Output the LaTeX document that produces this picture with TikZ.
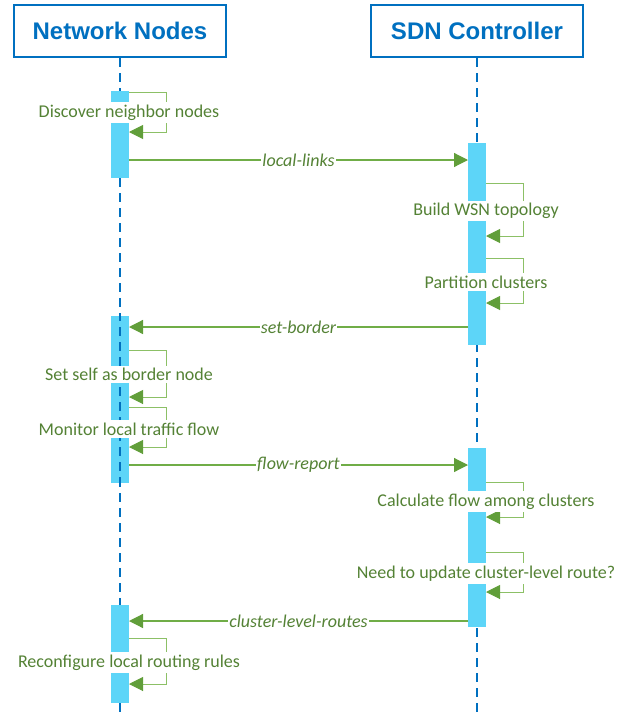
\documentclass[tikz,border=0pt]{standalone}
\usepackage{fontspec}
\setmainfont{Carlito}
\newfontfamily\headfont{Liberation Sans}
\usetikzlibrary{arrows.meta}
\definecolor{hblue}{HTML}{0070C0}
\definecolor{barcyan}{HTML}{5DD5F8}
\definecolor{msggreen}{HTML}{70AD47}
\definecolor{loopgreen}{HTML}{8CC066}
\definecolor{tipgreen}{HTML}{619E3A}
\definecolor{txtgreen}{HTML}{548235}
\tikzset{
  header/.style={draw=hblue, line width=2pt, fill=white, minimum width=212pt, minimum height=52pt,
    font=\headfont\bfseries\fontsize{24}{28}\selectfont, text=hblue, inner sep=0pt},
  lifeline/.style={draw=hblue, line width=2pt, dash pattern=on 9pt off 6pt},
  actbar/.style={fill=barcyan, draw=none},
  msgline/.style={draw=msggreen, line width=1.2pt, -{Triangle[length=14pt,width=14pt,color=tipgreen]}},
  loopline/.style={draw=loopgreen, line width=1pt, -{Triangle[length=14pt,width=14pt,color=tipgreen]}},
  looplabel/.style={fill=white, text=txtgreen, font=\fontsize{18}{21}\selectfont, inner xsep=1pt, inner ysep=2.5pt},
  msglabel/.style={fill=white, text=txtgreen, font=\itshape\fontsize{18}{21}\selectfont, inner xsep=1pt, inner ysep=1pt}
}
\begin{document}
\begin{tikzpicture}[x=1pt,y=-1pt]
\useasboundingbox (0,0) rectangle (638,718);
% headers
\node[header] (nn) at (120,31) {Network Nodes};
\node[header] (sdn) at (477,31) {SDN Controller};
% lifelines
\coordinate (nnend) at (120,718);
\coordinate (sdnend) at (477,718);
\draw[lifeline] (nn.south) -- (nnend);
\draw[lifeline] (sdn.south) -- (sdnend);
% activation bars
\fill[actbar] (111,91) rectangle (129,178);
\fill[actbar] (468,143) rectangle (486,345);
\fill[actbar] (111,316) rectangle (129,483);
\fill[actbar] (468,448) rectangle (486,627);
\fill[actbar] (111,605) rectangle (129,703);
% lifeline visible over second left bar
\coordinate (ovA) at (120,316);
\coordinate (ovB) at (120,483);
\draw[draw=hblue, line width=2pt, dash pattern=on 9pt off 6pt, dash phase=4pt] (ovA) -- (ovB);
% coordinates for self loops
\coordinate (l1s) at (129,92); \coordinate (l1e) at (129,132);
\coordinate (r1s) at (486,183); \coordinate (r1e) at (486,236);
\coordinate (r2s) at (486,258); \coordinate (r2e) at (486,303);
\coordinate (l2s) at (129,350); \coordinate (l2e) at (129,397);
\coordinate (l3s) at (129,407); \coordinate (l3e) at (129,447);
\coordinate (r3s) at (486,482); \coordinate (r3e) at (486,517);
\coordinate (r4s) at (486,552); \coordinate (r4e) at (486,592);
\coordinate (l4s) at (129,638); \coordinate (l4e) at (129,684);
\draw[loopline] (l1s) -- ++(37,0) |- (l1e);
\draw[loopline] (r1s) -- ++(37,0) |- (r1e);
\draw[loopline] (r2s) -- ++(37,0) |- (r2e);
\draw[loopline] (l2s) -- ++(37,0) |- (l2e);
\draw[loopline] (l3s) -- ++(37,0) |- (l3e);
\draw[loopline] (r3s) -- ++(37,0) |- (r3e);
\draw[loopline] (r4s) -- ++(37,0) |- (r4e);
\draw[loopline] (l4s) -- ++(37,0) |- (l4e);
% messages
\coordinate (m1a) at (129,160); \coordinate (m1b) at (468,160);
\coordinate (m2a) at (468,327); \coordinate (m2b) at (129,327);
\coordinate (m3a) at (129,465); \coordinate (m3b) at (468,465);
\coordinate (m4a) at (468,621); \coordinate (m4b) at (129,621);
\draw[msgline] (m1a) -- node[msglabel] {local-links} (m1b);
\draw[msgline] (m2a) -- node[msglabel] {set-border} (m2b);
\draw[msgline] (m3a) -- node[msglabel] {flow-report} (m3b);
\draw[msgline] (m4a) -- node[msglabel] {cluster-level-routes} (m4b);
% loop labels
\node[looplabel] (t1) at (129,112.5) {Discover neighbor nodes};
\node[looplabel] (t2) at (486,211) {Build WSN topology};
\node[looplabel] (t3) at (486,282) {Partition clusters};
\node[looplabel] (t4) at (129,374.5) {Set self as border node};
\node[looplabel] (t5) at (129,429) {Monitor local traffic flow};
\node[looplabel] (t6) at (486,501.5) {Calculate flow among clusters};
\node[looplabel] (t7) at (486,573.5) {Need to update cluster-level route?};
\node[looplabel] (t8) at (129,662.5) {Reconfigure local routing rules};
\end{tikzpicture}
\end{document}
